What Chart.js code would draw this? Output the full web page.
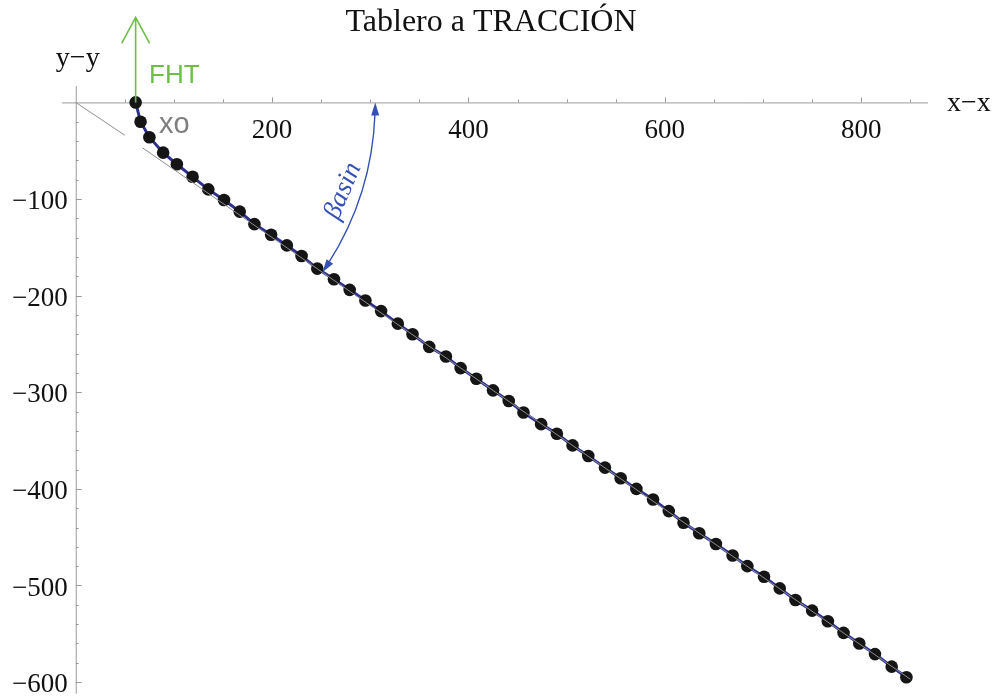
<!DOCTYPE html>
<html>
<head>
<meta charset="utf-8">
<title>Tablero a TRACCIÓN</title>
<script src="https://cdn.jsdelivr.net/npm/chart.js@4/dist/chart.umd.min.js"></script>
<style>
  html, body { margin: 0; padding: 0; background: #ffffff; }
  #wrap { width: 995px; height: 700px; }
</style>
</head>
<body>
<div id="wrap"><canvas id="c" width="995" height="700"></canvas></div>
<script>
// Deflection points of the board under traction (x−x, y−y)
const pointX = [61, 66, 75, 89, 103, 119, 135, 151, 167, 182, 199, 215, 230, 246,
  263, 279, 295, 311, 328, 343, 360, 377, 392, 408, 425, 441, 456, 474, 490, 506,
  522, 539, 555, 571, 588, 604, 619, 635, 652, 669, 684, 701, 717, 733, 750, 766,
  782, 798, 814, 831, 846];
const pointY = [0, -20, -36, -52, -64, -77, -90, -101, -113, -126, -137, -148, -159, -172,
  -183, -194, -205, -216, -229, -240, -253, -263, -275, -286, -298, -309, -321, -333, -343, -355,
  -366, -378, -389, -400, -411, -423, -435, -446, -457, -469, -480, -491, -503, -515, -526, -537,
  -549, -560, -571, -584, -595];

// Straight reference line from the origin (drawn in two pieces)
const refX = [0, 50, null, 68, 850];
const refY = [0, -34, null, -47, -597];

// Axis ticks
const xMajorTicks = [200, 400, 600, 800];
const xMinorTicks = [50, 100, 150, 250, 300, 350, 450, 500, 550, 650, 700, 750, 850];
const yMajorTicks = [-100, -200, -300, -400, -500, -600];
const yMinorTicks = [-20, -40, -60, -80, -120, -140, -160, -180, -220, -240, -260, -280,
  -320, -340, -360, -380, -420, -440, -460, -480, -520, -540, -560, -580];

// Angle arc radius (x units) and the point it ends on
const arcRadiusX = 305;
const arcEndIndex = 13;
const forceArrowLength = 85;

const titleText = 'Tablero a TRACCIÓN';

const pts = pointX.map((x, i) => ({ x: x, y: pointY[i] }));
const refPts = refX.map((x, i) => (x === null ? { x: NaN, y: NaN } : { x: x, y: refY[i] }));

const serif = '"Liberation Serif", "Times New Roman", serif';
const sans = '"Liberation Sans", Arial, sans-serif';

function arrowHead(ctx, x, y, dx, dy, len, half) {
  const n = Math.hypot(dx, dy); dx /= n; dy /= n;
  ctx.beginPath();
  ctx.moveTo(x, y);
  ctx.lineTo(x - dx * len - dy * half, y - dy * len + dx * half);
  ctx.lineTo(x - dx * len + dy * half, y - dy * len - dx * half);
  ctx.closePath();
  ctx.fill();
}

const axesPlugin = {
  id: 'axes',
  beforeDatasetsDraw(chart) {
    const { ctx, chartArea, scales } = chart;
    const xs = scales.x, ys = scales.y;
    const x0 = xs.getPixelForValue(0), y0 = ys.getPixelForValue(0);
    ctx.save();
    ctx.strokeStyle = '#9a9a9a';
    ctx.lineWidth = 1;
    ctx.beginPath();
    ctx.moveTo(chartArea.left, y0 + 0.5); ctx.lineTo(chartArea.right, y0 + 0.5);
    ctx.moveTo(x0 + 0.5, chartArea.top); ctx.lineTo(x0 + 0.5, chartArea.bottom);
    ctx.stroke();
    ctx.beginPath();
    xMajorTicks.forEach(v => { const p = Math.round(xs.getPixelForValue(v)) + 0.5; ctx.moveTo(p, y0); ctx.lineTo(p, y0 - 5); });
    xMinorTicks.forEach(v => { const p = Math.round(xs.getPixelForValue(v)) + 0.5; ctx.moveTo(p, y0); ctx.lineTo(p, y0 - 3); });
    yMajorTicks.forEach(v => { const p = Math.round(ys.getPixelForValue(v)) + 0.5; ctx.moveTo(x0, p); ctx.lineTo(x0 + 6, p); });
    yMinorTicks.forEach(v => { const p = Math.round(ys.getPixelForValue(v)) + 0.5; ctx.moveTo(x0, p); ctx.lineTo(x0 + 3, p); });
    ctx.stroke();

    ctx.fillStyle = '#111111';
    ctx.font = '27px ' + serif;
    ctx.textAlign = 'center';
    ctx.textBaseline = 'middle';
    xMajorTicks.forEach(v => ctx.fillText(String(v), xs.getPixelForValue(v), y0 + 28));
    ctx.textAlign = 'right';
    yMajorTicks.forEach(v => ctx.fillText('\u2212' + Math.abs(v), x0 - 8, ys.getPixelForValue(v) + 3));

    ctx.font = '28px ' + serif;
    ctx.textAlign = 'center';
    ctx.fillText('y\u2212y', x0 + 2, 59);
    ctx.textAlign = 'left';
    ctx.fillText('x\u2212x', 947, y0 + 1);

    ctx.font = '32px ' + serif;
    ctx.textAlign = 'center';
    ctx.fillText(titleText, 491, 23);
    ctx.restore();
  },
  afterDatasetsDraw(chart) {
    const { ctx, scales } = chart;
    const xs = scales.x, ys = scales.y;
    const ox = xs.getPixelForValue(0), oy = ys.getPixelForValue(0);
    ctx.save();

    // Force arrow FHT from the first point
    const fx = xs.getPixelForValue(pointX[0]), fy = ys.getPixelForValue(pointY[0]);
    ctx.strokeStyle = '#6cbf45';
    ctx.lineWidth = 1.6;
    ctx.beginPath();
    ctx.moveTo(fx, fy); ctx.lineTo(fx, fy - forceArrowLength);
    ctx.moveTo(fx - 14, fy - forceArrowLength + 26); ctx.lineTo(fx, fy - forceArrowLength); ctx.lineTo(fx + 14, fy - forceArrowLength + 26);
    ctx.stroke();
    ctx.fillStyle = '#6cbf45';
    ctx.font = '26px ' + sans;
    ctx.textAlign = 'left';
    ctx.textBaseline = 'middle';
    ctx.fillText('FHT', 149, 76);

    // xo label
    ctx.fillStyle = '#7f7f7f';
    ctx.font = '29px ' + sans;
    ctx.fillText('xo', 159, 125);

    // Angle arc βasin
    const r = xs.getPixelForValue(arcRadiusX) - ox;
    const ex = xs.getPixelForValue(pointX[arcEndIndex]) - ox;
    const ey = ys.getPixelForValue(pointY[arcEndIndex]) - oy;
    const th = Math.atan2(ey, ex);
    ctx.strokeStyle = '#3452b4';
    ctx.fillStyle = '#3452b4';
    ctx.lineWidth = 1.4;
    ctx.beginPath();
    ctx.arc(ox, oy, r, 0.035, th - 0.035);
    ctx.stroke();
    arrowHead(ctx, ox + r, oy, 0, -1, 13, 4);
    arrowHead(ctx, ox + r * Math.cos(th), oy + r * Math.sin(th), -Math.sin(th), Math.cos(th), 13, 4);

    ctx.translate(343, 191);
    ctx.rotate(-1.17);
    ctx.font = 'italic 27px ' + serif;
    ctx.textAlign = 'center';
    ctx.textBaseline = 'middle';
    ctx.fillText('\u03B2asin', 0, 0);
    ctx.restore();
  }
};

new Chart(document.getElementById('c'), {
  type: 'scatter',
  data: {
    datasets: [
      {
        data: refPts,
        showLine: true,
        spanGaps: false,
        borderColor: '#8e8e8e',
        borderWidth: 1,
        pointRadius: 0
      },
      {
        data: pts,
        showLine: true,
        borderColor: '#2e3192',
        borderWidth: 3,
        pointRadius: 6.3,
        pointBackgroundColor: '#151515',
        pointBorderWidth: 0
      }
    ]
  },
  options: {
    responsive: false,
    animation: false,
    devicePixelRatio: 1,
    layout: { padding: { left: 62, right: 67, top: 86, bottom: 0 } },
    plugins: {
      legend: { display: false },
      tooltip: { enabled: false },
      title: { display: false }
    },
    scales: {
      x: { type: 'linear', min: -14, max: 868, display: false },
      y: { type: 'linear', min: -612, max: 17, display: false }
    }
  },
  plugins: [axesPlugin]
});
</script>
</body>
</html>
